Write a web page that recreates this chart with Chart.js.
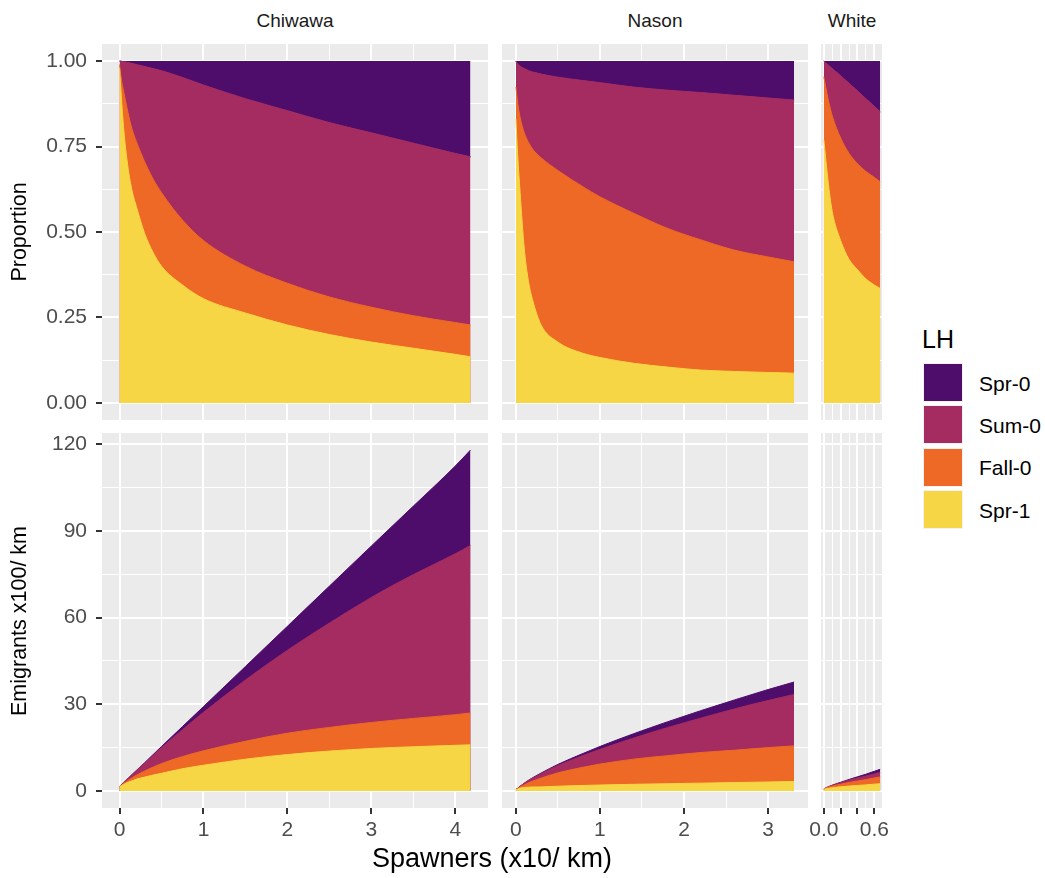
<!DOCTYPE html>
<html>
<head>
<meta charset="utf-8">
<script src="https://cdn.jsdelivr.net/npm/chart.js@4.4.1/dist/chart.umd.min.js"></script>
<style>
body { margin: 0; background: #fff; }
#page { position: relative; width: 1045px; height: 878px; overflow: hidden; font-family: "Liberation Sans", Arial, sans-serif; }
canvas { position: absolute; }
.txt { position: absolute; white-space: nowrap; line-height: 1; }
.key { position: absolute; width: 40px; height: 39px; box-sizing: border-box; border: 1px solid #f2f2f2; }
</style>
</head>
<body>
<div id="page"></div>
<script>
// life histories, top of stack first
const lhNames = ['Spr-0', 'Sum-0', 'Fall-0', 'Spr-1'];
const lhColors = { 'Spr-0': '#4E0C6B', 'Sum-0': '#A52C60', 'Fall-0': '#ED6925', 'Spr-1': '#F6D645' };

// tick labels
const propTicks = [0, 0.25, 0.5, 0.75, 1];
const emTicks = [0, 30, 60, 90, 120];
const chiTicks = [0, 1, 2, 3, 4];
const nasTicks = [0, 1, 2, 3];
const whiTicks = [0, 0.2, 0.4, 0.6];
const whiTickLabels = ['0.0', '', '', '0.6'];

// values are the upper edge of each stacked band (Spr-1 at the bottom)
// Chiwawa
const chiX = [0, 0.02, 0.05, 0.1, 0.15, 0.2, 0.3, 0.4, 0.5, 0.75, 1, 1.5, 2, 2.5, 3, 3.5, 4, 4.18];
const chiPropSpr1 = [0.98, 0.90, 0.80, 0.69, 0.62, 0.575, 0.495, 0.44, 0.40, 0.345, 0.305, 0.263, 0.228, 0.20, 0.178, 0.16, 0.142, 0.135];
const chiPropFall0 = [0.99, 0.95, 0.91, 0.85, 0.80, 0.765, 0.705, 0.655, 0.615, 0.535, 0.475, 0.40, 0.35, 0.31, 0.28, 0.255, 0.235, 0.228];
const chiPropSum0 = [1.0, 0.9995, 0.998, 0.996, 0.993, 0.99, 0.984, 0.978, 0.972, 0.952, 0.93, 0.89, 0.855, 0.82, 0.79, 0.76, 0.73, 0.72];
const chiEmSpr1 = [1.5, 1.8, 2.3, 3.0, 3.5, 4.1, 4.8, 5.5, 6.1, 7.7, 8.9, 11.0, 12.6, 13.8, 14.7, 15.3, 15.8, 15.95];
const chiEmFall0 = [1.5, 1.9, 2.64, 3.66, 4.56, 5.43, 6.9, 8.25, 9.47, 11.9, 13.9, 17.2, 20.0, 22.0, 23.7, 25.1, 26.4, 27.0];
const chiEmSum0 = [1.5, 2.0, 2.89, 4.28, 5.66, 7.03, 9.64, 12.3, 15.0, 21.2, 27.2, 38.4, 48.7, 58.1, 67.0, 74.9, 82.1, 85.0];
const chiEmSpr0 = [1.5, 2.0, 2.9, 4.3, 5.7, 7.1, 9.8, 12.6, 15.4, 22.3, 29.2, 43.1, 57.0, 70.9, 84.8, 98.6, 112.5, 118.0];

// Nason
const nasX = [0, 0.02, 0.05, 0.1, 0.15, 0.2, 0.3, 0.5, 0.8, 1.0, 1.4, 1.8, 2.2, 2.6, 3.0, 3.31];
const nasPropSpr1 = [0.83, 0.73, 0.615, 0.45, 0.355, 0.30, 0.228, 0.178, 0.145, 0.133, 0.116, 0.105, 0.096, 0.092, 0.089, 0.087];
const nasPropFall0 = [0.924, 0.88, 0.835, 0.79, 0.762, 0.742, 0.717, 0.68, 0.632, 0.603, 0.555, 0.511, 0.477, 0.447, 0.427, 0.413];
const nasPropSum0 = [1.0, 0.992, 0.985, 0.978, 0.972, 0.968, 0.962, 0.953, 0.943, 0.937, 0.924, 0.915, 0.908, 0.9, 0.892, 0.886];
const nasEmSpr1 = [0.42, 0.66, 0.98, 1.22, 1.31, 1.38, 1.41, 1.64, 1.9, 2.05, 2.3, 2.5, 2.7, 2.9, 3.1, 3.3];
const nasEmFall0 = [0.46, 0.79, 1.34, 2.13, 2.82, 3.41, 4.45, 6.26, 8.2, 9.3, 11.0, 12.2, 13.3, 14.1, 15.0, 15.6];
const nasEmSum0 = [0.5, 0.89, 1.58, 2.64, 3.6, 4.45, 5.96, 8.77, 12.3, 14.4, 18.3, 21.9, 25.2, 28.4, 31.3, 33.4];
const nasEmSpr0 = [0.5, 0.9, 1.6, 2.7, 3.7, 4.6, 6.2, 9.2, 13.0, 15.4, 19.8, 23.9, 27.8, 31.5, 35.1, 37.7];

// White
const whiX = [0, 0.05, 0.1, 0.2, 0.3, 0.4, 0.5, 0.6, 0.67];
const whiPropSpr1 = [0.77, 0.65, 0.56, 0.475, 0.42, 0.39, 0.363, 0.345, 0.335];
const whiPropFall0 = [0.954, 0.89, 0.84, 0.775, 0.73, 0.70, 0.677, 0.66, 0.647];
const whiPropSum0 = [1.0, 0.989, 0.978, 0.957, 0.935, 0.913, 0.89, 0.868, 0.852];
const whiEmSpr1 = [0.54, 0.91, 1.12, 1.43, 1.68, 1.91, 2.1, 2.35, 2.51];
const whiEmFall0 = [0.67, 1.25, 1.68, 2.33, 2.92, 3.43, 3.93, 4.49, 4.85];
const whiEmSum0 = [0.7, 1.38, 1.96, 2.87, 3.74, 4.47, 5.16, 5.9, 6.39];
const whiEmSpr0 = [0.7, 1.4, 2.0, 3.0, 4.0, 4.9, 5.8, 6.8, 7.5];

const page = document.getElementById('page');
const FONT = "'Liberation Sans', Arial, sans-serif";

// panel rectangles in page pixels
const cols = [
	{ name: 'Chiwawa', l: 102, r: 488, min: -0.209, max: 4.389, step: 0.5, ticks: chiTicks, labels: chiTicks.map(String) },
	{ name: 'Nason', l: 502, r: 808, min: -0.1655, max: 3.4755, step: 0.5, ticks: nasTicks, labels: nasTicks.map(String) },
	{ name: 'White', l: 821, r: 883, min: -0.0335, max: 0.7035, step: 0.1, ticks: whiTicks, labels: whiTickLabels },
];
const rows = [
	{ t: 44, b: 420, min: -0.05, max: 1.05, step: 0.125, ticks: propTicks, labels: propTicks.map(v => v.toFixed(2)) },
	{ t: 433, b: 808, min: -5.9, max: 123.9, step: 15, ticks: emTicks, labels: emTicks.map(String) },
];

const series = [
	[
		{ x: chiX, bands: [chiPropSpr1, chiPropFall0, chiPropSum0] },
		{ x: nasX, bands: [nasPropSpr1, nasPropFall0, nasPropSum0] },
		{ x: whiX, bands: [whiPropSpr1, whiPropFall0, whiPropSum0] },
	],
	[
		{ x: chiX, bands: [chiEmSpr1, chiEmFall0, chiEmSum0, chiEmSpr0] },
		{ x: nasX, bands: [nasEmSpr1, nasEmFall0, nasEmSum0, nasEmSpr0] },
		{ x: whiX, bands: [whiEmSpr1, whiEmFall0, whiEmSum0, whiEmSpr0] },
	],
];

const panelBg = {
	id: 'panelBg',
	beforeDraw(chart) {
		const a = chart.chartArea;
		const c = chart.ctx;
		c.save();
		c.fillStyle = '#EBEBEB';
		c.fillRect(a.left, a.top, a.right - a.left, a.bottom - a.top);
		c.restore();
	}
};

function majorIndex(list, v)
{
	return list.findIndex(t => Math.abs(t - v) < 1e-9);
}

function makeDatasets(s, rowIdx)
{
	const order = ['Spr-1', 'Fall-0', 'Sum-0'];
	const pts = arr => s.x.map((x, i) => ({ x: x, y: arr[i] }));
	let ds = order.map((name, i) => ({
		label: name,
		data: pts(s.bands[i]),
		backgroundColor: lhColors[name],
		borderColor: lhColors[name],
		borderWidth: 1,
		fill: 'origin',
	}));
	if (rowIdx === 0)
		ds.push({ label: 'Spr-0', data: pts(s.bands[2]), backgroundColor: lhColors['Spr-0'], borderColor: lhColors['Spr-0'], borderWidth: 1, fill: { value: 1 } });
	else
		ds.push({ label: 'Spr-0', data: pts(s.bands[3]), backgroundColor: lhColors['Spr-0'], borderColor: lhColors['Spr-0'], borderWidth: 1, fill: 'origin' });
	return ds;
}

rows.forEach((row, ri) => {
	cols.forEach((col, ci) => {
		const showY = ci === 0;
		const showX = ri === 1;
		const mL = showY ? col.l : (showX && ci === 2 ? 13 : 0);
		const mR = (showX && ci === 2) ? 12 : 0;
		const mB = showX ? 42 : 0;
		const canvas = document.createElement('canvas');
		canvas.width = col.r - col.l + mL + mR;
		canvas.height = row.b - row.t + mB;
		canvas.style.left = (col.l - mL) + 'px';
		canvas.style.top = row.t + 'px';
		page.appendChild(canvas);

		new Chart(canvas.getContext('2d'), {
			type: 'line',
			data: { datasets: makeDatasets(series[ri][ci], ri) },
			options: {
				responsive: false,
				animation: false,
				devicePixelRatio: 1,
				layout: { padding: { left: 0, right: mR, top: 0, bottom: 0 } },
				plugins: { legend: { display: false }, tooltip: { enabled: false } },
				elements: { point: { radius: 0 }, line: { cubicInterpolationMode: 'monotone' } },
				scales: {
					x: {
						type: 'linear',
						min: col.min,
						max: col.max,
						afterFit: s => { s.height = mB; s.paddingLeft = 0; s.paddingRight = 0; s.paddingTop = 0; s.paddingBottom = 0; },
						border: { display: false },
						grid: {
							color: '#FFFFFF',
							lineWidth: c => majorIndex(col.ticks, c.tick.value) >= 0 ? 2 : 1,
							drawTicks: showX,
							tickLength: 6,
							tickWidth: 2,
							tickColor: c => majorIndex(col.ticks, c.tick.value) >= 0 ? '#333333' : 'rgba(0,0,0,0)',
						},
						ticks: {
							display: showX,
							stepSize: col.step,
							includeBounds: false,
							autoSkip: false,
							maxRotation: 0,
							padding: 4,
							color: '#4D4D4D',
							font: { family: FONT, size: 21 },
							callback: v => { const k = majorIndex(col.ticks, v); return k >= 0 ? col.labels[k] : ''; },
						},
					},
					y: {
						type: 'linear',
						min: row.min,
						max: row.max,
						afterFit: s => { s.width = mL; s.paddingLeft = 0; s.paddingRight = 0; s.paddingTop = 0; s.paddingBottom = 0; },
						border: { display: false },
						grid: {
							color: '#FFFFFF',
							lineWidth: c => majorIndex(row.ticks, c.tick.value) >= 0 ? 2 : 1,
							drawTicks: showY,
							tickLength: 6,
							tickWidth: 2,
							tickColor: c => majorIndex(row.ticks, c.tick.value) >= 0 ? '#333333' : 'rgba(0,0,0,0)',
						},
						ticks: {
							display: showY,
							stepSize: row.step,
							includeBounds: false,
							autoSkip: false,
							padding: 9,
							color: '#4D4D4D',
							font: { family: FONT, size: 21 },
							callback: v => { const k = majorIndex(row.ticks, v); return k >= 0 ? row.labels[k] : ''; },
						},
					},
				},
			},
			plugins: [panelBg],
		});
	});
});

function addText(text, x, y, size, color, transform)
{
	const d = document.createElement('div');
	d.className = 'txt';
	d.textContent = text;
	d.style.left = x + 'px';
	d.style.top = y + 'px';
	d.style.fontSize = size + 'px';
	d.style.color = color;
	d.style.transform = transform;
	page.appendChild(d);
}

// strip labels
cols.forEach(col => addText(col.name, (col.l + col.r) / 2, 20, 19, '#1A1A1A', 'translate(-50%, -50%)'));

// axis titles
addText('Proportion', 20, 232, 21.5, '#000', 'translate(-50%, -50%) rotate(-90deg)');
addText('Emigrants x100/ km', 20, 621, 21.5, '#000', 'translate(-50%, -50%) rotate(-90deg)');
addText('Spawners (x10/ km)', 492, 858, 27, '#000', 'translate(-50%, -50%)');

// legend
addText('LH', 922, 339, 25, '#000', 'translateY(-50%)');
lhNames.forEach((name, i) => {
	const top = 363 + i * 42.4;
	const k = document.createElement('div');
	k.className = 'key';
	k.style.left = '923px';
	k.style.top = top + 'px';
	k.style.background = lhColors[name];
	page.appendChild(k);
	addText(name, 979, top + 19.5, 21, '#000', 'translateY(-50%)');
});
</script>
</body>
</html>
